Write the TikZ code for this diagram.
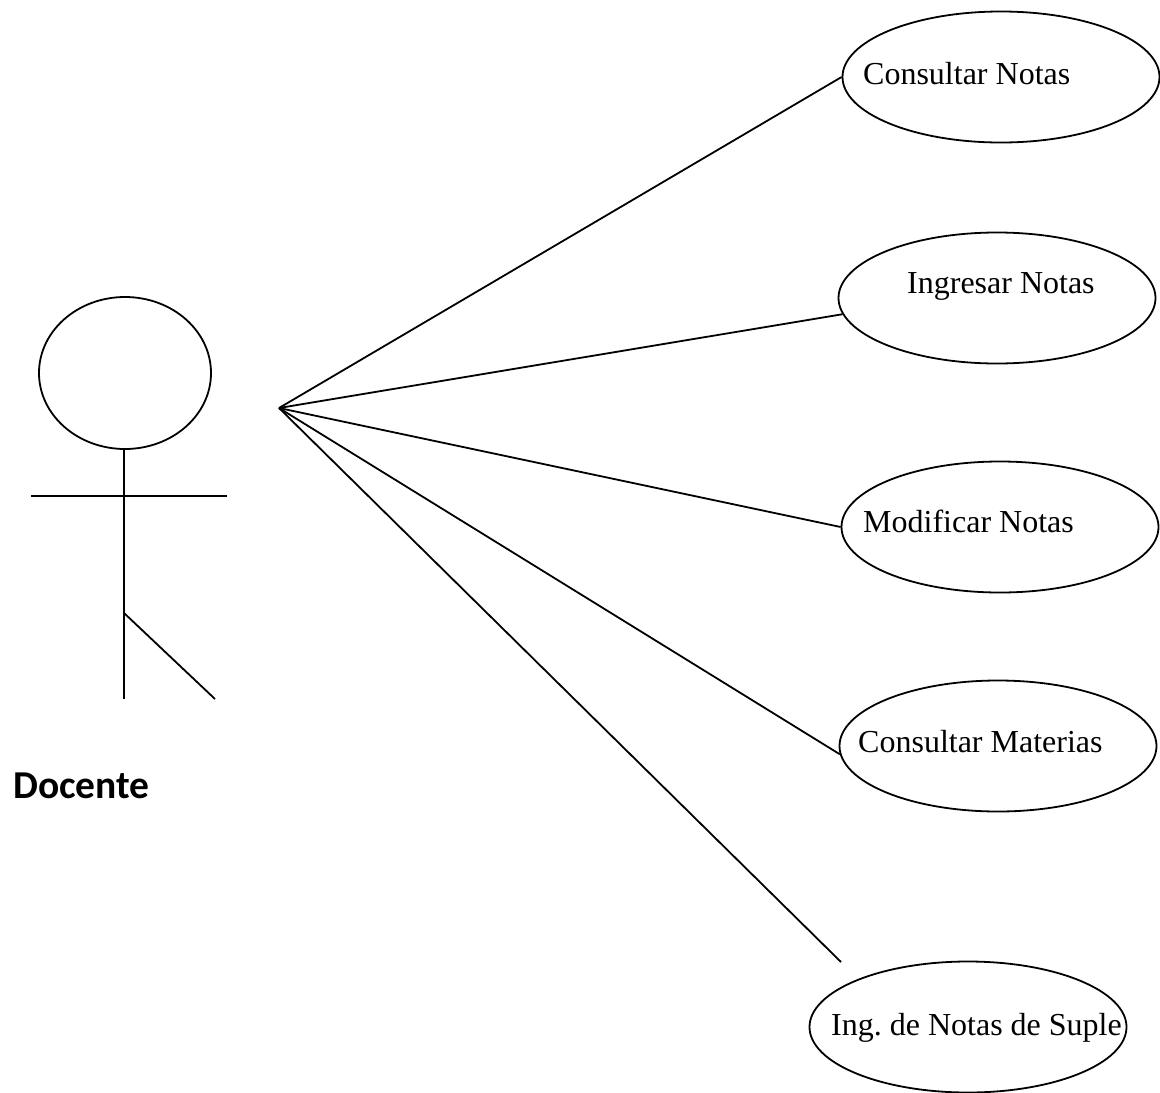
\documentclass[tikz,border=0pt]{standalone}
\usepackage{fontspec}
\setmainfont{Liberation Serif}
\newfontfamily\actorfont{Carlito}
\usetikzlibrary{shapes.geometric}
\frenchspacing
\tikzset{
    usecase/.style={ellipse,draw,line width=1.8pt,inner sep=0pt,minimum width=317,minimum height=131},
    casename/.style={inner sep=0pt,anchor=base west,font=\fontsize{32}{36}\selectfont},
    actorname/.style={inner sep=0pt,anchor=base west,font=\actorfont\bfseries\fontsize{39.5}{44}\selectfont},
    stick/.style={line width=1.8pt},
    assoc/.style={line width=1.8pt},
    }
\begin{document}
\begin{tikzpicture}[x=1pt,y=-1pt]
		\useasboundingbox (0,0) rectangle (1160,1093);
		% actor
		\node[ellipse,draw,stick,inner sep=0pt,minimum width=172,minimum height=152] (head) at (125,373) {};
		\coordinate (neck) at (124,449);
		\coordinate (hip) at (124,613);
		\coordinate (foot) at (124,699);
		\coordinate (footr) at (215,699);
		\coordinate (handl) at (31,496);
		\coordinate (handr) at (227,496);
		\node[actorname] (doc) at (13,798) {Docente};

		\draw[stick] (neck) -- (foot);
		\draw[stick] (handl) -- (handr);
		\draw[stick] (hip) -- (footr);

		% use cases
		\node[usecase] (cn) at (1001,77) {};
		\node[usecase] (ig) at (997,298) {};
		\node[usecase] (mn) at (1000,527) {};
		\node[usecase] (cm) at (998,746) {};
		\node[usecase] (su) at (968,1027) {};

		\node[casename] (cnt) at (863,84) {Consultar Notas};
		\node[casename] (igt) at (907,293) {Ingresar Notas};
		\node[casename] (mnt) at (863,532) {Modificar Notas};
		\node[casename] (cmt) at (858,752) {Consultar Materias};
		\node[casename] (sut) at (831,1035) {Ing. de Notas de Suple};

		\coordinate (hub) at (279,408);
		\coordinate (suend) at (841,962);

	\draw[assoc] (hub) to (cn.west);
	\draw[assoc] (hub) to (ig.186);
        \draw[assoc] (hub) to (mn.west);
        \draw[assoc] (hub) to (cm.183);
        \draw[assoc] (hub) to (suend);
    \end{tikzpicture}
\end{document}
